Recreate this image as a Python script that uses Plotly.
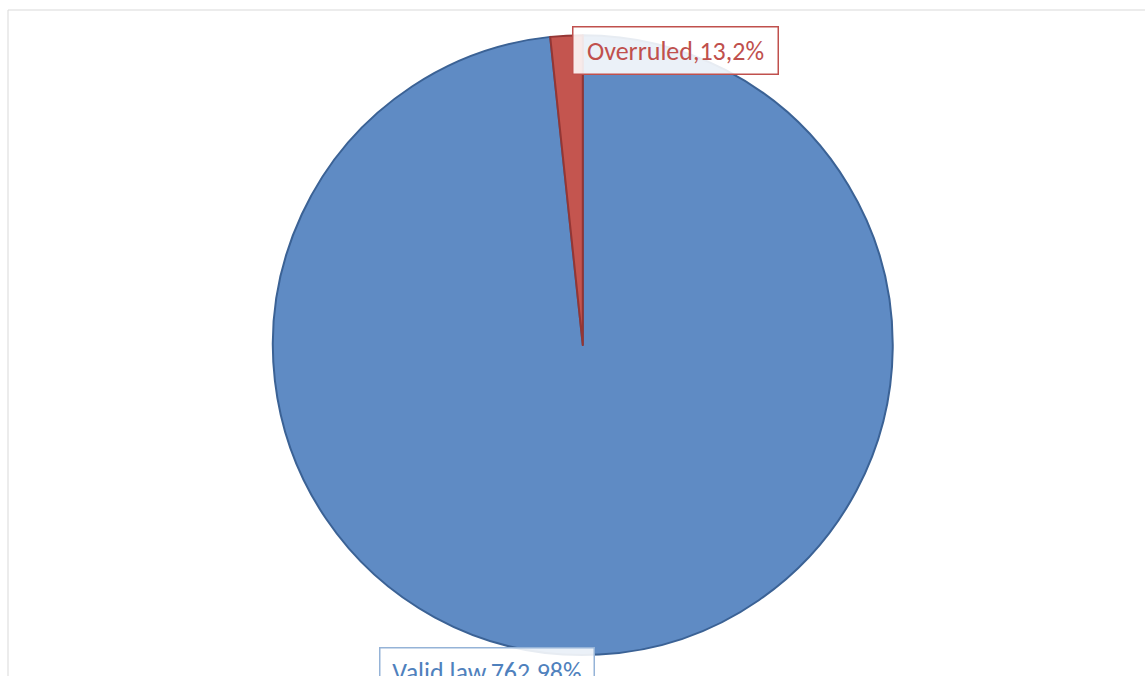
import plotly.graph_objects as go

categories = ["Valid law", "Overruled"]
values = [762, 13]
percent_labels = ["98%", "2%"]

W, H = 1145, 676
fill_colors = ["#5F8BC4", "#C4554F"]
line_colors = ["#3B6295", "#943634"]
text_colors = ["#4F81BD", "#C0504D"]
box_colors = ["#95B3D7", "#C0504D"]

fig = go.Figure()
fig.add_trace(go.Pie(
    labels=categories,
    values=values,
    sort=False,
    direction="clockwise",
    rotation=0,
    textinfo="none",
    hoverinfo="label+value+percent",
    marker=dict(colors=fill_colors, line=dict(color=line_colors, width=2)),
    domain=dict(x=[0.238, 0.780], y=[0.031, 0.948]),
    showlegend=False,
))

# label boxes (pixel centre, text-area width)
label_pos = [(487, 671, 201), (675, 50, 192)]
for i, cat in enumerate(categories):
    px, py, wd = label_pos[i]
    fig.add_annotation(
        x=px / W, y=1 - py / H, xref="paper", yref="paper",
        text=f"{cat},{values[i]},{percent_labels[i]}",
        showarrow=False, xanchor="center", yanchor="middle",
        width=wd, height=34, align="center", valign="middle",
        font=dict(family="Carlito, Calibri, Liberation Sans, sans-serif", size=26, color=text_colors[i]),
        bgcolor="rgba(255,255,255,0.88)",
        bordercolor=box_colors[i], borderwidth=1.5, borderpad=6,
    )

fig.add_shape(type="rect", xref="paper", yref="paper",
              x0=8 / W, y0=-0.02, x1=1.02, y1=1 - 10 / H,
              line=dict(color="#D9D9D9", width=1), layer="below")

fig.update_layout(
    width=W, height=H,
    margin=dict(l=0, r=0, t=0, b=0),
    paper_bgcolor="white", plot_bgcolor="white",
)
fig.write_html("out.html")
